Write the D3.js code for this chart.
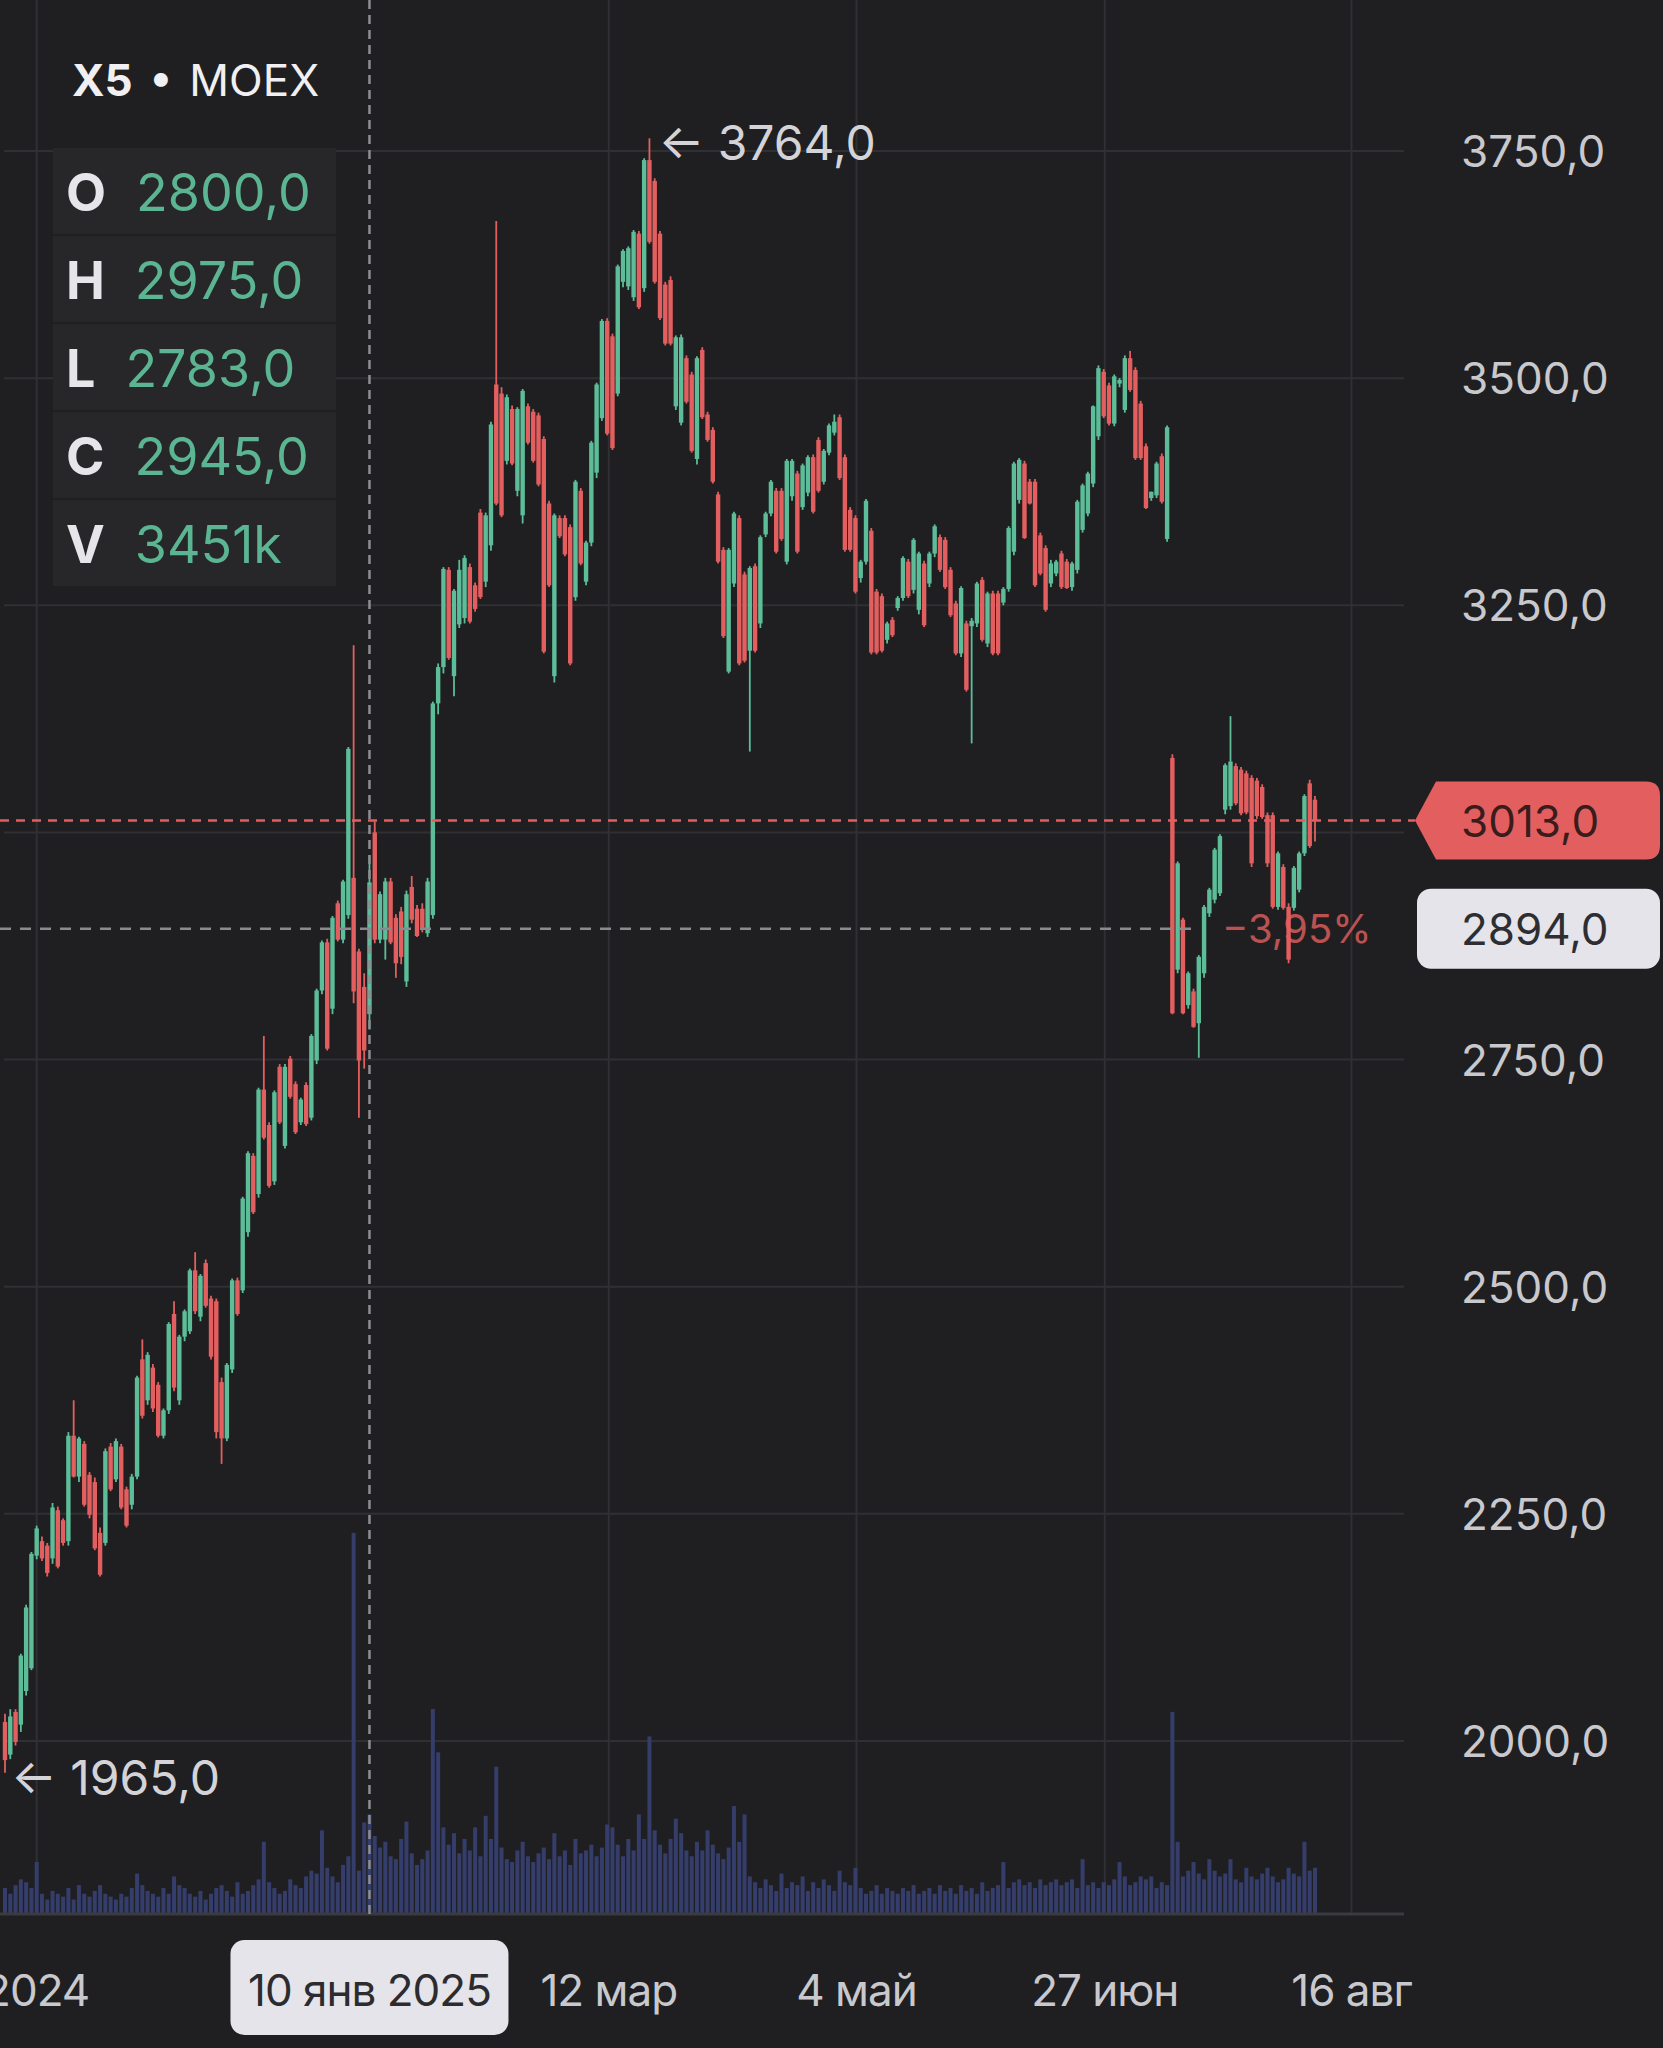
<!DOCTYPE html>
<html>
<head>
<meta charset="utf-8">
<script src="https://cdn.jsdelivr.net/npm/d3@7"></script>
<style>
  html, body { margin: 0; padding: 0; background: #1f1f22; }
  svg { display: block; }
  text { font-family: Inter, "Noto Sans", sans-serif; }
</style>
</head>
<body>
<script>
// X5 on MOEX, daily candles
const openP = [
  2021,1985,2032,2018,2055,2080,2204,2220,2215,2201,
  2254,2243,2220,2336,2291,2327,2293,2285,2229,2218,
  2324,2288,2324,2277,2260,2291,2420,2375,2411,2392,
  2336,2364,2470,2375,2445,2451,2518,2467,2526,2487,
  2484,2395,2333,2409,2507,2496,2560,2644,2602,2717,
  2678,2616,2742,2655,2751,2723,2681,2722,2686,2749,
  2826,2879,2806,2922,2882,2909,2950,2869,2830,2800,
  3000,2882,2882,2946,2906,2913,2836,2940,2916,2916,
  2889,2909,3142,3182,3289,3172,3229,3236,3292,3272,
  3352,3276,3316,3493,3483,3409,3466,3376,3349,3469,
  3463,3459,3433,3362,3172,3346,3346,3336,3259,3376,
  3276,3319,3396,3456,3563,3546,3483,3606,3601,3589,
  3659,3599,3740,3717,3659,3603,3608,3469,3451,3522,
  3504,3411,3531,3460,3443,3372,3311,3177,3274,3346,
  3284,3200,3293,3230,3328,3351,3376,3376,3298,3370,
  3395,3358,3374,3413,3432,3386,3418,3440,3457,3413,
  3355,3346,3280,3298,3332,3265,3260,3212,3234,3247,
  3258,3298,3267,3245,3296,3274,3307,3325,3322,3289,
  3252,3197,3230,3227,3230,3278,3208,3263,3263,3253,
  3268,3309,3366,3406,3386,3386,3327,3313,3274,3285,
  3307,3298,3270,3289,3333,3351,3384,3436,3507,3492,
  3450,3494,3465,3522,3509,3472,3425,3368,3371,3414,
  3323,3082,2849,2904,2810,2825,2790,2845,2911,2926,
  2933,3025,3029,3073,3069,3065,3060,3057,3050,3019,
  3019,2918,2962,2918,2917,2937,2977,3054,3036
];
const highP = [
  2030,2035,2035,2096,2150,2208,2237,2225,2218,2262,
  2258,2245,2340,2375,2335,2330,2296,2290,2235,2322,
  2328,2333,2327,2280,2294,2402,2442,2428,2415,2395,
  2366,2461,2484,2447,2475,2520,2538,2514,2530,2490,
  2487,2400,2416,2509,2510,2599,2649,2647,2719,2776,
  2681,2716,2745,2745,2754,2726,2708,2725,2778,2828,
  2881,2883,2908,2925,2948,3094,3206,2872,2845,2975,
  3012,2935,2950,2950,2910,2918,2936,2952,2920,2922,
  2950,3144,3186,3292,3292,3268,3300,3305,3296,3275,
  3356,3352,3452,3673,3490,3482,3470,3468,3488,3472,
  3466,3462,3436,3365,3351,3349,3349,3339,3388,3379,
  3321,3431,3495,3565,3566,3549,3625,3642,3645,3663,
  3662,3742,3764,3720,3662,3606,3612,3547,3548,3525,
  3507,3524,3534,3463,3446,3375,3314,3313,3353,3349,
  3287,3293,3296,3327,3353,3388,3379,3379,3411,3411,
  3398,3406,3415,3416,3435,3422,3450,3460,3460,3416,
  3358,3349,3300,3367,3335,3268,3263,3232,3237,3260,
  3304,3301,3324,3309,3299,3309,3339,3328,3325,3292,
  3255,3271,3233,3236,3276,3281,3265,3266,3266,3270,
  3337,3408,3412,3409,3389,3389,3330,3316,3300,3300,
  3310,3301,3298,3366,3384,3397,3470,3514,3510,3495,
  3504,3500,3525,3530,3512,3475,3428,3375,3408,3417,
  3448,3086,2968,2906,2847,2828,2865,2920,2939,2983,
  2998,3076,3128,3076,3072,3068,3063,3060,3053,3022,
  3022,2979,2965,2922,2963,2979,3042,3058,3040
];
const lowP = [
  1965,1980,1995,2010,2050,2078,2200,2198,2181,2195,
  2190,2215,2215,2290,2285,2258,2245,2210,2181,2215,
  2275,2285,2255,2235,2255,2288,2355,2370,2362,2334,
  2333,2360,2385,2370,2440,2448,2470,2462,2477,2420,
  2333,2305,2330,2405,2468,2493,2555,2580,2598,2662,
  2609,2612,2679,2652,2707,2668,2678,2677,2683,2745,
  2822,2760,2800,2880,2878,2905,2812,2686,2740,2783,
  2878,2878,2860,2877,2840,2855,2830,2900,2885,2890,
  2885,2905,3130,3175,3190,3150,3225,3230,3230,3243,
  3257,3270,3310,3360,3347,3405,3404,3370,3340,3427,
  3407,3381,3197,3270,3165,3324,3304,3184,3255,3294,
  3272,3315,3390,3453,3437,3421,3480,3600,3597,3585,
  3576,3595,3648,3604,3564,3536,3536,3465,3448,3472,
  3418,3405,3455,3430,3384,3296,3214,3175,3270,3184,
  3187,3089,3198,3225,3325,3348,3307,3321,3295,3365,
  3307,3355,3370,3351,3374,3383,3415,3437,3388,3309,
  3309,3263,3275,3295,3196,3196,3198,3208,3215,3244,
  3255,3258,3263,3240,3226,3270,3303,3287,3268,3237,
  3195,3193,3155,3098,3226,3210,3204,3195,3195,3250,
  3265,3305,3362,3323,3361,3270,3283,3243,3270,3282,
  3268,3268,3266,3285,3330,3348,3380,3432,3456,3448,
  3447,3490,3462,3485,3410,3410,3356,3365,3368,3362,
  3320,2800,2845,2800,2806,2785,2752,2840,2907,2922,
  2930,3020,3025,3030,3019,3020,2962,3015,3015,2962,
  2916,2915,2915,2856,2914,2934,2974,2983,2990
];
const closeP = [
  1979,2027,1999,2094,2147,2206,2234,2201,2185,2257,
  2192,2218,2336,2291,2333,2260,2249,2212,2183,2319,
  2277,2330,2257,2237,2291,2400,2358,2425,2366,2336,
  2364,2459,2389,2445,2473,2518,2473,2512,2479,2423,
  2340,2333,2414,2507,2470,2597,2647,2582,2717,2664,
  2611,2714,2681,2742,2709,2670,2706,2679,2776,2826,
  2879,2762,2906,2882,2946,3092,2825,2749,2760,2945,
  2882,2932,2946,2879,2856,2863,2932,2904,2886,2893,
  2946,3142,3182,3290,3192,3266,3289,3302,3232,3246,
  3259,3349,3449,3362,3349,3479,3406,3466,3486,3429,
  3409,3383,3199,3272,3349,3326,3306,3186,3386,3296,
  3319,3429,3493,3563,3439,3423,3623,3640,3643,3661,
  3578,3740,3650,3606,3566,3538,3538,3545,3545,3474,
  3420,3522,3457,3432,3386,3298,3216,3311,3351,3186,
  3189,3291,3200,3325,3351,3386,3309,3323,3409,3409,
  3309,3404,3413,3353,3376,3420,3448,3452,3390,3311,
  3311,3265,3298,3365,3198,3198,3200,3230,3217,3258,
  3302,3260,3322,3307,3228,3307,3337,3289,3270,3239,
  3197,3269,3157,3233,3274,3212,3263,3197,3197,3268,
  3335,3406,3410,3324,3362,3272,3285,3245,3296,3298,
  3270,3269,3296,3364,3382,3395,3469,3511,3458,3450,
  3502,3498,3522,3487,3412,3412,3357,3375,3406,3364,
  3446,2801,2966,2801,2845,2786,2863,2918,2937,2981,
  2996,3074,3078,3032,3021,3022,2966,3018,3017,2966,
  2918,2977,2917,2860,2961,2977,3040,2985,3013
];
// volume, thousands of shares
const volume = [
  900,700,1000,1200,1100,900,1800,700,500,800,
  700,600,900,500,1000,700,600,800,1000,700,
  600,500,700,600,900,1400,1000,800,700,600,
  900,700,1300,1000,900,700,600,800,500,700,
  900,1000,800,600,1100,700,800,1000,1200,2500,
  1100,900,700,800,1200,1000,900,1300,1500,1400,
  2900,1600,1300,1100,1700,2000,13200,1500,3170,3451,
  2700,2300,2500,2000,1900,2600,3200,2100,1700,1900,
  2200,7100,5600,3000,2400,2800,2100,2600,2200,3000,
  2000,3400,2600,5100,2300,1900,1800,2200,2500,2000,
  1800,2100,2300,1900,2800,2000,2200,1700,2600,2100,
  2200,2400,2000,2300,3100,3000,2400,2000,2600,2200,
  3450,2600,6150,2900,2400,2100,2600,3300,2800,2200,
  2000,2500,2200,2900,2400,2100,1900,2300,3740,2500,
  3450,1300,1100,900,1200,1000,800,1400,900,1100,
  1000,1300,800,1100,900,1200,1000,800,1500,1100,
  1000,1600,900,700,800,1000,700,900,800,700,
  900,800,1000,700,800,900,700,1000,800,900,
  700,1000,800,900,700,1100,800,900,1000,1800,
  900,1100,1200,1000,1100,900,1200,1000,1100,1200,
  1000,1100,1200,900,1900,1000,1100,900,1100,1000,
  1200,1800,1300,1000,1100,1300,1200,1300,900,1100,
  1000,7000,2500,1300,1500,1800,1400,1200,1900,1500,
  1300,1400,1900,1200,1100,1600,1300,1200,1400,1600,
  1300,1100,1200,1600,1400,1300,2500,1500,1600
];

const priceTicks = [2000, 2250, 2500, 2750, 3000, 3250, 3500, 3750];
const dateLabels = ['2024', '12 мар', '4 май', '27 июн', '16 авг'];
const dateTickIdx = [6.0, 114.3, 161.2, 208.2, 254.9];

const hoverIdx = 69;
const hoverDate = '10 янв 2025';
const lastPrice = 3013;
const refPrice = 2894;
const refChange = '\u22123,95%';

const W = 1663, H = 2048;
const plotRight = 1404, axisY = 1914;
const green = '#5cbd98', red = '#e35f5f';

const fmt = v => v.toFixed(1).replace('.', ',');

const svg = d3.select('body').append('svg').attr('width', W).attr('height', H);
svg.append('rect').attr('width', W).attr('height', H).attr('fill', '#1f1f22');

const x = d3.scaleLinear().domain([0, openP.length - 1]).range([5, 1315]);
const y = d3.scaleLinear().domain([2000, 3750]).range([1741, 151]);
const yVol = d3.scaleLinear().domain([0, 13300]).range([axisY, 1530]);

const candles = openP.map((o, i) => ({ i: i, o: o, h: highP[i], l: lowP[i], c: closeP[i], v: volume[i] }));

// grid
const grid = svg.append('g');
grid.selectAll('.hg').data(priceTicks).enter().append('line')
  .attr('x1', 4).attr('x2', plotRight)
  .attr('y1', d => y(d)).attr('y2', d => y(d))
  .attr('stroke', '#303034').attr('stroke-width', 2);
grid.selectAll('.vg').data(dateTickIdx).enter().append('line')
  .attr('x1', d => x(d)).attr('x2', d => x(d))
  .attr('y1', 0).attr('y2', axisY)
  .attr('stroke', '#303034').attr('stroke-width', 2);

// volume
svg.append('g').selectAll('rect').data(candles).enter().append('rect')
  .attr('x', d => x(d.i) - 2)
  .attr('width', 4)
  .attr('y', d => yVol(d.v))
  .attr('height', d => axisY - yVol(d.v))
  .attr('fill', '#353d6a');

svg.append('line')
  .attr('x1', 0).attr('x2', plotRight)
  .attr('y1', axisY).attr('y2', axisY)
  .attr('stroke', '#3a3a3f').attr('stroke-width', 3);

// candles
const cg = svg.append('g');
cg.selectAll('line').data(candles).enter().append('line')
  .attr('x1', d => x(d.i)).attr('x2', d => x(d.i))
  .attr('y1', d => y(d.h)).attr('y2', d => y(d.l))
  .attr('stroke', d => d.c >= d.o ? green : red)
  .attr('stroke-width', 1.8);
cg.selectAll('rect').data(candles).enter().append('rect')
  .attr('x', d => x(d.i) - 2.2)
  .attr('width', 4.4)
  .attr('y', d => y(Math.max(d.o, d.c)))
  .attr('height', d => Math.max(1.5, Math.abs(y(d.o) - y(d.c))))
  .attr('fill', d => d.c >= d.o ? green : red);

// price axis labels (the one under the last-price tag is covered, so left out)
svg.append('g').selectAll('text')
  .data(priceTicks.filter(d => Math.abs(y(d) - y(lastPrice)) > 45 && Math.abs(y(d) - y(refPrice)) > 45))
  .enter().append('text')
  .attr('x', 1461).attr('y', d => y(d))
  .attr('dominant-baseline', 'central')
  .attr('font-size', 44).attr('fill', '#c9c9cd')
  .text(d => fmt(d));

// date labels
svg.append('g').selectAll('text').data(dateLabels).enter().append('text')
  .attr('x', (d, i) => x(dateTickIdx[i])).attr('y', 1990)
  .attr('text-anchor', 'middle').attr('dominant-baseline', 'central')
  .attr('font-size', 44).attr('letter-spacing', -1).attr('fill', '#c9c9cd')
  .text(d => d);

// crosshair
const hx = x(hoverIdx);
svg.append('line')
  .attr('x1', hx).attr('x2', hx).attr('y1', 0).attr('y2', axisY)
  .attr('stroke', '#8d8d92').attr('stroke-width', 2.5).attr('stroke-dasharray', '9,6');
svg.append('rect')
  .attr('x', hx - 139).attr('y', 1940).attr('width', 278).attr('height', 95).attr('rx', 14)
  .attr('fill', '#e4e4ea');
svg.append('text')
  .attr('x', hx).attr('y', 1990)
  .attr('text-anchor', 'middle').attr('dominant-baseline', 'central')
  .attr('font-size', 44).attr('letter-spacing', -1).attr('fill', '#2c2c30')
  .text(hoverDate);

// last price line + tag
svg.append('line')
  .attr('x1', 0).attr('x2', 1415).attr('y1', y(lastPrice)).attr('y2', y(lastPrice))
  .attr('stroke', red).attr('stroke-width', 2.5).attr('stroke-dasharray', '9,7');
const ty = y(lastPrice);
svg.append('path')
  .attr('d', `M1415,${ty} L1436,${ty - 39} L1646,${ty - 39} Q1660,${ty - 39} 1660,${ty - 25} L1660,${ty + 25} Q1660,${ty + 39} 1646,${ty + 39} L1436,${ty + 39} Z`)
  .attr('fill', red);
svg.append('text')
  .attr('x', 1461).attr('y', ty)
  .attr('dominant-baseline', 'central')
  .attr('font-size', 44).attr('fill', '#3a1c1c')
  .text(fmt(lastPrice));

// reference price line + box
const ry = y(refPrice);
svg.append('line')
  .attr('x1', 0).attr('x2', 1192).attr('y1', ry).attr('y2', ry)
  .attr('stroke', '#8a8a8f').attr('stroke-width', 2.5).attr('stroke-dasharray', '11,9');
svg.append('rect')
  .attr('x', 1417).attr('y', ry - 40).attr('width', 243).attr('height', 80).attr('rx', 14)
  .attr('fill', '#e4e4ea');
svg.append('text')
  .attr('x', 1461).attr('y', ry)
  .attr('dominant-baseline', 'central')
  .attr('font-size', 44).attr('fill', '#2e2e32')
  .text(fmt(refPrice));
svg.append('text')
  .attr('x', 1222).attr('y', ry)
  .attr('dominant-baseline', 'central')
  .attr('font-size', 40).attr('fill', red).attr('opacity', 0.8)
  .text(refChange);

// max / min annotations
const iMax = d3.maxIndex(highP), iMin = d3.minIndex(lowP);
svg.append('text')
  .attr('x', x(iMax) + 9).attr('y', y(highP[iMax]) + 4)
  .attr('dominant-baseline', 'central')
  .attr('font-size', 48).attr('fill', '#d4d4d8')
  .text('\u2190 ' + fmt(highP[iMax]));
svg.append('text')
  .attr('x', x(iMin) + 6).attr('y', y(lowP[iMin]) + 5)
  .attr('dominant-baseline', 'central')
  .attr('font-size', 48).attr('fill', '#d4d4d8')
  .text('\u2190 ' + fmt(lowP[iMin]));

// title
const title = svg.append('text')
  .attr('x', 72).attr('y', 80)
  .attr('dominant-baseline', 'central')
  .attr('font-size', 44).attr('fill', '#f0f0f2');
title.append('tspan').attr('font-weight', 700).text('X5');
title.append('tspan').attr('dx', 16).text('\u2022');
title.append('tspan').attr('dx', 16).text('MOEX');

// OHLC panel for the hovered candle
const rows = [
  ['O', fmt(openP[hoverIdx])],
  ['H', fmt(highP[hoverIdx])],
  ['L', fmt(lowP[hoverIdx])],
  ['C', fmt(closeP[hoverIdx])],
  ['V', volume[hoverIdx] + 'k']
];
const panel = svg.append('g');
panel.selectAll('rect').data(rows).enter().append('rect')
  .attr('x', 53).attr('y', (d, i) => 148 + i * 88)
  .attr('width', 283).attr('height', 86)
  .attr('fill', '#27272a');
const rowText = panel.selectAll('text').data(rows).enter().append('text')
  .attr('x', 66).attr('y', (d, i) => 148 + i * 88 + 44)
  .attr('dominant-baseline', 'central')
  .attr('font-size', 52);
rowText.append('tspan').attr('font-weight', 700).attr('fill', '#e6e6ea').text(d => d[0]);
rowText.append('tspan').attr('dx', 30).attr('fill', '#5bb592').text(d => d[1]);
</script>
</body>
</html>
